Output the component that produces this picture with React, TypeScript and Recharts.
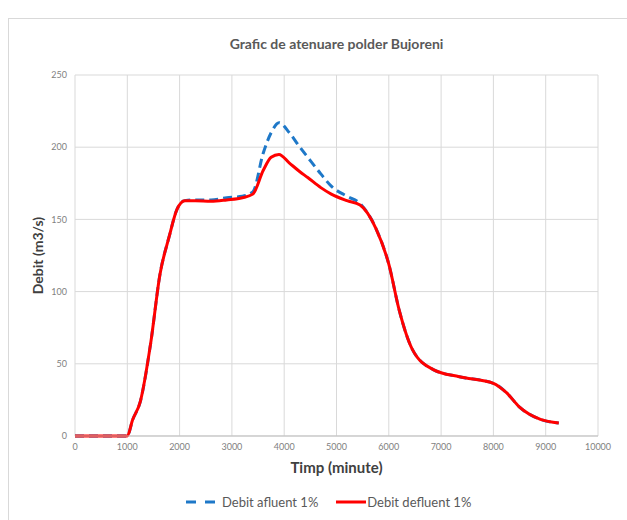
import { LineChart, Line, XAxis, YAxis, CartesianGrid, Label } from "recharts";

const timp = [0, 500, 1000, 1100, 1250, 1450, 1625, 1800, 1950, 2100, 2300, 2600, 2900, 3200, 3400, 3600, 3750, 3900, 4100, 4300, 4450, 4700, 4900, 5200, 5450, 5750, 6000, 6200, 6450, 6850, 7350, 8000, 8250, 8500, 8900, 9250];
const afluent = [0, 0, 0, 11, 24, 65, 112, 138, 157, 163, 163.5, 163.5, 165, 166, 169, 196, 210, 217, 210, 200, 193, 181.5, 173, 166, 161, 144, 119, 87, 60, 46, 41, 36.5, 30, 20, 11.5, 9];
const defluent = [0, 0, 0, 11, 24, 65, 112, 138, 157, 163, 163, 162.5, 163.5, 165, 167.5, 184, 193, 195, 189, 183, 179, 172, 167.5, 163, 160, 144, 119, 87, 60, 46, 41, 36.5, 30, 20, 11.5, 9];
const xTicks = [0, 1000, 2000, 3000, 4000, 5000, 6000, 7000, 8000, 9000, 10000];
const yTicks = [0, 50, 100, 150, 200, 250];

const data = timp.map((t, i) => ({ t, afluent: afluent[i], defluent: defluent[i] }));

const FONT = "Lato, 'Open Sans', sans-serif";
const BLUE = "#1E78C8";
const RED = "#FF0000";

export default function App() {
  return (
    <div
      style={{
        position: "absolute",
        left: 0,
        top: 0,
        width: 627,
        height: 520,
        background: "#fff",
        fontFamily: FONT,
      }}
    >
      <div
        style={{
          position: "absolute",
          left: 8,
          top: 18,
          width: 640,
          height: 520,
          border: "1px solid #d9d9d9",
        }}
      />
      <div
        style={{
          position: "absolute",
          left: 75,
          width: 523,
          top: 35,
          textAlign: "center",
          fontSize: 14,
          fontWeight: 700,
          color: "#595959",
        }}
      >
        Grafic de atenuare polder Bujoreni
      </div>
      <div style={{ position: "absolute", left: 0, top: 0 }}>
        <LineChart
          width={627}
          height={520}
          data={data}
          margin={{ top: 75, right: 29, left: 35, bottom: 54 }}
        >
          <CartesianGrid stroke="#d9d9d9" />
          <XAxis
            dataKey="t"
            type="number"
            domain={[0, 10000]}
            ticks={xTicks}
            height={30}
            stroke="#bfbfbf"
            tickLine={false}
            tick={{ fill: "#7f7f7f", fontSize: 9 }}
          >
            <Label
              value="Timp (minute)"
              position="insideBottom"
              offset={-7}
              style={{ fill: "#404040", fontSize: 15, fontWeight: 700 }}
            />
          </XAxis>
          <YAxis
            type="number"
            domain={[0, 250]}
            ticks={yTicks}
            width={40}
            axisLine={false}
            tickLine={false}
            tick={{ fill: "#7f7f7f", fontSize: 9 }}
          >
            <Label
              value="Debit (m3/s)"
              angle={-90}
              position="insideLeft"
              offset={3}
              style={{ fill: "#404040", fontSize: 14, fontWeight: 700, textAnchor: "middle" }}
            />
          </YAxis>
          <Line
            dataKey="afluent"
            type="monotone"
            stroke={BLUE}
            strokeWidth={3}
            strokeDasharray="9 5"
            dot={false}
            isAnimationActive={false}
          />
          <Line
            dataKey="defluent"
            type="monotone"
            stroke={RED}
            strokeWidth={3}
            dot={false}
            isAnimationActive={false}
          />
        </LineChart>
      </div>
      <div
        style={{
          position: "absolute",
          top: 494,
          left: 186,
          display: "flex",
          alignItems: "center",
          fontSize: 13,
          color: "#595959",
        }}
      >
        <svg width={34} height={8}>
          <line x1={0} y1={4} x2={34} y2={4} stroke={BLUE} strokeWidth={3} strokeDasharray="10 9" />
        </svg>
        <span style={{ marginLeft: 2 }}>Debit afluent 1%</span>
        <svg width={30} height={8} style={{ marginLeft: 18 }}>
          <line x1={0} y1={4} x2={30} y2={4} stroke={RED} strokeWidth={3} />
        </svg>
        <span style={{ marginLeft: 1 }}>Debit defluent 1%</span>
      </div>
    </div>
  );
}
